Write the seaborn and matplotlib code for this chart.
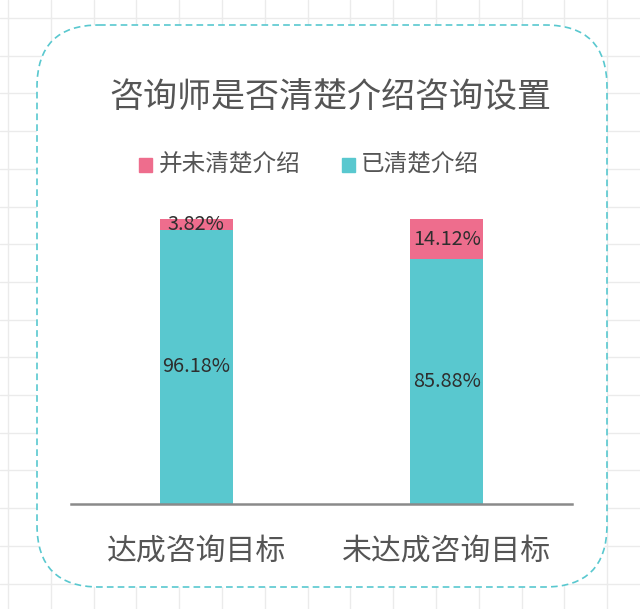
import matplotlib
matplotlib.use("Agg")
import matplotlib.pyplot as plt
from matplotlib.patches import FancyBboxPatch, Rectangle
import seaborn as sns
import pandas as pd

# data
groups = ["达成咨询目标", "未达成咨询目标"]
unclear = [3.82, 14.12]     # 并未清楚介绍
clear = [96.18, 85.88]      # 已清楚介绍
series_names = ["并未清楚介绍", "已清楚介绍"]

PINK = "#EE6D8D"
TEAL = "#59C8CF"
TXT = "#555555"

sns.set_theme(style="white")
plt.rcParams["font.family"] = ["Noto Sans CJK SC", "DejaVu Sans"]

W, H = 640, 609
fig = plt.figure(figsize=(W / 100, H / 100), dpi=100)

# page background: light grid paper
bg = fig.add_axes([0, 0, 1, 1])
bg.set_xlim(0, W)
bg.set_ylim(H, 0)
bg.axis("off")
x = 8.0
while x < W:
    bg.axvline(x, color="#EBEBEB", lw=1, zorder=0)
    x += 42.8
y = 18.0
while y < H:
    bg.axhline(y, color="#EBEBEB", lw=1, zorder=0)
    y += 37.7

# white card with dashed rounded border
card = FancyBboxPatch((37, 25), 570, 562, boxstyle="round,pad=0,rounding_size=62",
                      facecolor="white", edgecolor=TEAL, lw=1.2, linestyle=(0, (4, 2.5)),
                      zorder=1)
bg.add_patch(card)

# title
bg.text(330, 97, "咨询师是否清楚介绍咨询设置", ha="center", va="center",
        fontsize=24.5, color=TXT, zorder=3)

# legend
bg.add_patch(Rectangle((139, 158), 13, 14, color=PINK, zorder=3))
bg.text(159, 165, series_names[0], ha="left", va="center", fontsize=17, color=TXT, zorder=3)
bg.add_patch(Rectangle((342, 158), 13, 14, color=TEAL, zorder=3))
bg.text(361, 165, series_names[1], ha="left", va="center", fontsize=17, color=TXT, zorder=3)

# bars
df = pd.DataFrame({"group": groups, "unclear": unclear, "clear": clear})
df["total"] = df["unclear"] + df["clear"]

ax = fig.add_axes([71 / W, 1 - 504 / H, 501 / W, 285 / H])
ax.set_facecolor("none")
sns.barplot(data=df, x="group", y="total", color=PINK, width=0.29, saturation=1,
            linewidth=0, ax=ax)
sns.barplot(data=df, x="group", y="clear", color=TEAL, width=0.29, saturation=1,
            linewidth=0, ax=ax)
ax.set_xlim(-0.5, 1.5)
ax.set_ylim(0, 100)
ax.set_xlabel("")
ax.set_ylabel("")
ax.set_yticks([])
for s in ["top", "right", "left"]:
    ax.spines[s].set_visible(False)
ax.spines["bottom"].set_color("#8A8A8A")
ax.spines["bottom"].set_linewidth(1.8)
ax.tick_params(axis="x", length=0, pad=23, labelsize=21.5, labelcolor=TXT)

# value labels
for i, row in df.iterrows():
    ax.text(i, row["clear"] / 2, f"{row['clear']:.2f}%", ha="center", va="center",
            fontsize=14.3, color="#2E2E2E")
    top_mid = row["clear"] + row["unclear"] / 2
    ax.text(i, top_mid, f"{row['unclear']:.2f}%", ha="center", va="center",
            fontsize=14.3, color="#2E2E2E")

fig.savefig("out.png", dpi=100)
